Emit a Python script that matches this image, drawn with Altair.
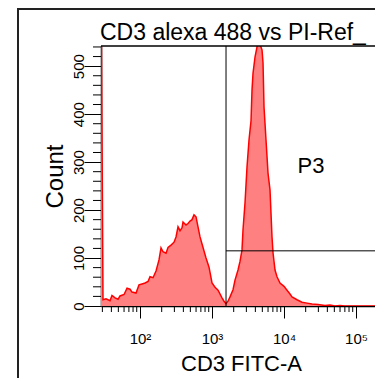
import altair as alt
import pandas as pd

# Histogram: CD3 FITC-A intensity vs event count
fitc = [28.7, 30.6, 33.7, 38.3, 40.8, 45.0, 49.5, 52.7, 60.0, 66.0, 72.6, 77.4, 88.0, 96.8,
        106.6, 117.3, 129.2, 137.7, 151.6, 166.8, 183.5, 195.7, 208.6, 229.7, 244.9, 269.5,
        296.7, 316.2, 337.2, 359.4, 383.1, 395.6, 435.4, 464.2, 494.9, 527.6, 562.3, 599.5,
        639.0, 681.3, 749.9, 825.4, 908.5, 1000, 1101, 1212, 1377, 1468, 1565,
        1668, 1778, 1957, 2086, 2297, 2448, 2610, 2695, 2873, 3063, 3265, 3481, 3594, 3711,
        3956, 4217, 4496, 4642, 4949, 5109, 5275, 5623, 5995, 6390, 6813, 7035, 7499, 7995,
        8799, 10000, 11010, 12115, 12915, 15157, 17783, 20865, 24484, 29663, 37107, 43546,
        51090, 59948, 70000, 183600]
count = [700, 13, 15, 11, 22, 17, 14, 21, 24, 37, 35, 29, 27, 44,
         46, 48, 51, 61, 59, 73, 96, 121, 113, 110, 122, 127,
         133, 144, 165, 157, 163, 175, 169, 172, 177, 180, 190, 186,
         165, 144, 122, 100, 81, 48, 39, 33, 17, 10, 5,
         10, 19, 34, 54, 75, 93, 117, 159, 215, 290, 346, 386, 450, 485,
         519, 540, 560, 545, 534, 507, 415, 346, 277, 242, 144, 111, 75, 61,
         48, 41, 33, 25, 19, 13, 8, 6, 4, 3, 1, 2,
         0, 1, 0, 0]

x_major = [100, 1000, 10000, 100000]
x_minor = [30, 40, 50, 60, 70, 80, 90,
           200, 300, 400, 500, 600, 700, 800, 900,
           2000, 3000, 4000, 5000, 6000, 7000, 8000, 9000,
           20000, 30000, 40000, 50000, 60000, 70000, 80000, 90000]
y_major = [0, 100, 200, 300, 400, 500]
y_minor = [20, 40, 60, 80, 120, 140, 160, 180, 220, 240, 260, 280, 320, 340, 360, 380,
           420, 440, 460, 480, 520, 540]

gate_x = 1565
gate_y = 115
gate_label = "P3"
gate_label_x = 23700
gate_label_y = 292

title_text = "CD3 alexa 488 vs PI-Ref_"
x_title = "CD3 FITC-A"
y_title = "Count"

W, H = 274, 260
FONT = "Liberation Sans"

hist = pd.DataFrame({"fitc": fitc, "count": count})
xs = alt.Scale(type="log", domain=[28.7, 183600], nice=False)
ys = alt.Scale(domain=[0, 542], nice=False)

x_axis = alt.Axis(
    values=x_major, tickSize=12, tickColor="black", tickWidth=1, ticks=True, labels=True,
    domainColor="black", domainWidth=1.5, grid=False,
    labelExpr="datum.value == 100 ? '10²' : datum.value == 1000 ? '10³' : datum.value == 10000 ? '10⁴' : '10⁵'",
    labelFont=FONT, labelFontSize=15, labelColor="black", labelBaseline="alphabetic",
    labelPadding=25, labelFlush=False, labelOverlap=False,
    title=x_title, titleFont=FONT, titleFontSize=22, titleFontWeight="normal",
    titleColor="black", titleX=140, titleY=64, titleBaseline="alphabetic", titleAlign="center")
y_axis = alt.Axis(
    values=y_major, tickSize=17, tickColor="black", tickWidth=1, ticks=True, labels=True,
    domainColor="black", domainWidth=1.5, grid=False,
    labelFont=FONT, labelFontSize=15, labelColor="black", labelAngle=270,
    labelAlign="center", labelBaseline="alphabetic", labelPadding=1,
    labelFlush=False, labelOverlap=False,
    title=y_title, titleFont=FONT, titleFontSize=24, titleFontWeight="normal",
    titleColor="black", titleAngle=270, titleX=-39, titleY=130,
    titleBaseline="alphabetic", titleAlign="center")

area = alt.Chart(hist).mark_area(color="#FF8080", clip=True).encode(
    x=alt.X("fitc:Q", scale=xs, axis=x_axis),
    y=alt.Y("count:Q", scale=ys, axis=y_axis, stack=None),
)

line = alt.Chart(hist).mark_line(color="#FF0000", strokeWidth=1.5, clip=True).encode(
    x=alt.X("fitc:Q", scale=xs, axis=x_axis),
    y=alt.Y("count:Q", scale=ys, axis=y_axis),
)

xminor = alt.Chart(pd.DataFrame({"v": x_minor})).mark_rule(color="black", strokeWidth=1).encode(
    x=alt.X("v:Q", scale=xs, axis=x_axis), y=alt.value(H), y2=alt.value(H + 6))

yminor = alt.Chart(pd.DataFrame({"v": y_minor})).mark_rule(color="black", strokeWidth=1).encode(
    y=alt.Y("v:Q", scale=ys, axis=y_axis), x=alt.value(-8), x2=alt.value(0))

gate_v = alt.Chart(pd.DataFrame({"x": [gate_x]})).mark_rule(color="black", strokeWidth=1).encode(
    x=alt.X("x:Q", scale=xs, axis=x_axis), y=alt.value(0), y2=alt.value(H))

gate_h = alt.Chart(pd.DataFrame({"x": [gate_x], "y": [gate_y]})).mark_rule(color="black", strokeWidth=1).encode(
    x=alt.X("x:Q", scale=xs, axis=x_axis), x2=alt.value(W),
    y=alt.Y("y:Q", scale=ys, axis=y_axis))

p3 = alt.Chart(pd.DataFrame({"x": [gate_label_x], "y": [gate_label_y], "t": [gate_label]})).mark_text(
    font=FONT, fontSize=22, color="black", align="center", baseline="middle").encode(
    x=alt.X("x:Q", scale=xs, axis=x_axis), y=alt.Y("y:Q", scale=ys, axis=y_axis), text="t:N")

frame_df = pd.DataFrame({"t": [title_text]})
top_border = alt.Chart(frame_df).mark_rule(color="black", strokeWidth=1.5).encode(
    x=alt.value(0), x2=alt.value(W), y=alt.value(0))
outer_left = alt.Chart(frame_df).mark_rule(color="#222222", strokeWidth=2).encode(
    x=alt.value(-83), y=alt.value(-38), y2=alt.value(H + 80))
outer_top = alt.Chart(frame_df).mark_rule(color="#222222", strokeWidth=2).encode(
    x=alt.value(-84), x2=alt.value(W), y=alt.value(-37))

title = alt.Chart(frame_df).mark_text(
    font=FONT, fontSize=23, color="black", align="left", baseline="alphabetic").encode(
    x=alt.value(-1), y=alt.value(-6), text="t:N")

chart = alt.layer(area, line, xminor, yminor, gate_v, gate_h, p3, top_border,
                  outer_left, outer_top, title).properties(
    width=W, height=H,
    autosize=alt.AutoSizeParams(type="none"),
    padding={"left": 93, "top": 38, "right": 0, "bottom": 72},
    background="white",
).configure_view(stroke="transparent")

chart.save("out.html", embed_options={"renderer": "svg", "actions": False})
